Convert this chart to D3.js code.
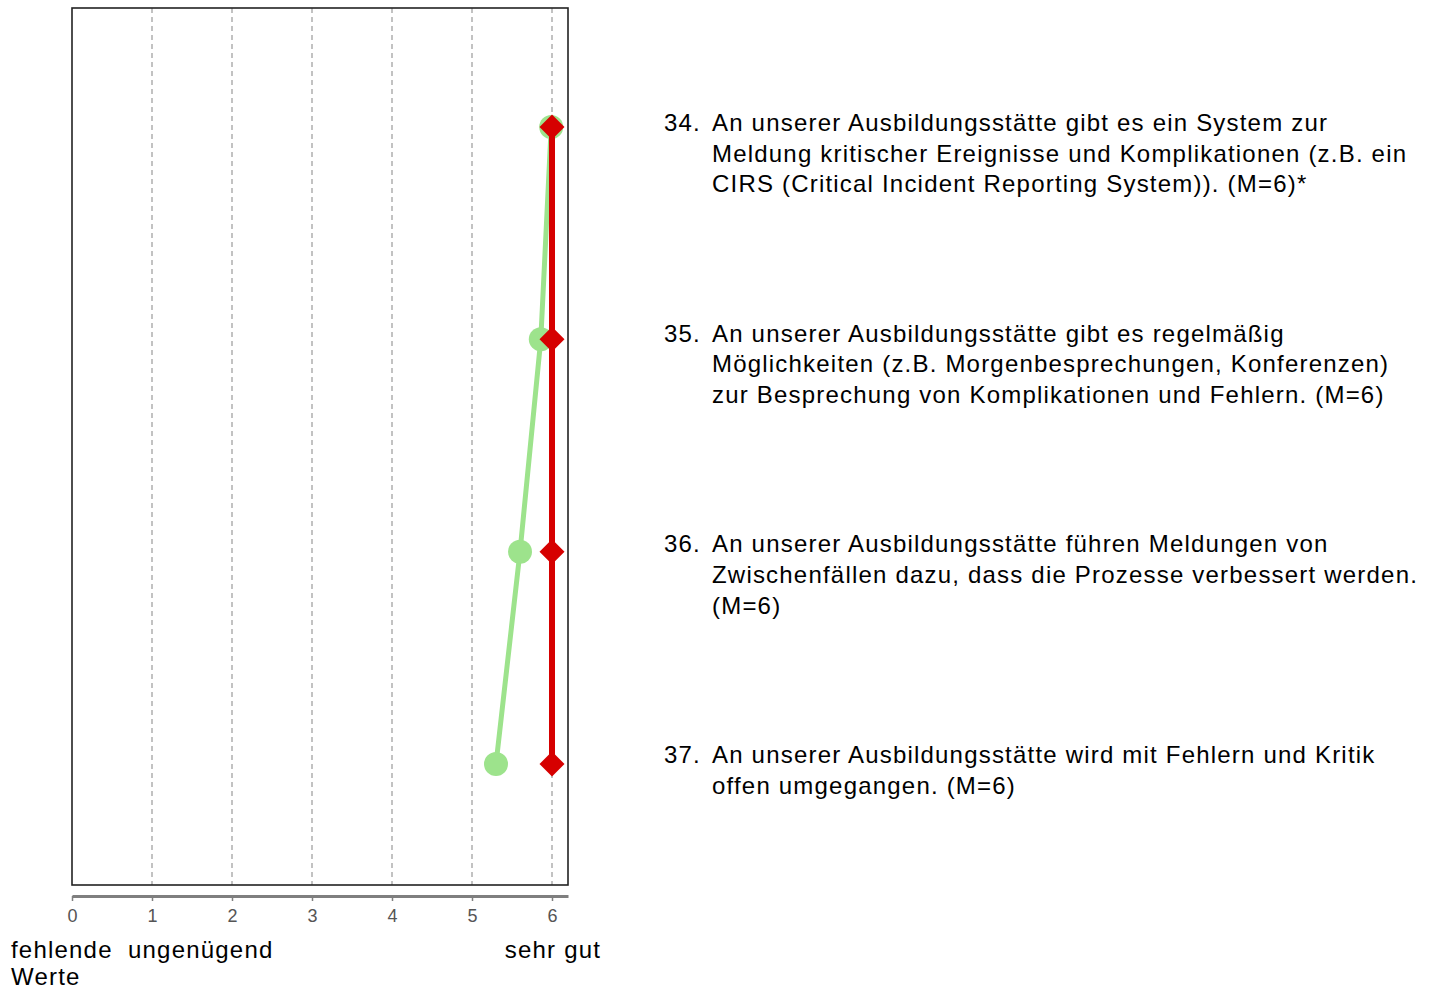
<!DOCTYPE html>
<html><head><meta charset="utf-8">
<script src="https://cdn.jsdelivr.net/npm/d3@7"></script>
<style>body{margin:0;background:#fff}svg{display:block}</style>
</head><body>
<script>
const items = ["34.","35.","36.","37."];
const itemTexts = [
 ["An unserer Ausbildungsstätte gibt es ein System zur","Meldung kritischer Ereignisse und Komplikationen (z.B. ein","CIRS (Critical Incident Reporting System)). (M=6)*"],
 ["An unserer Ausbildungsstätte gibt es regelmäßig","Möglichkeiten (z.B. Morgenbesprechungen, Konferenzen)","zur Besprechung von Komplikationen und Fehlern. (M=6)"],
 ["An unserer Ausbildungsstätte führen Meldungen von","Zwischenfällen dazu, dass die Prozesse verbessert werden.","(M=6)"],
 ["An unserer Ausbildungsstätte wird mit Fehlern und Kritik","offen umgegangen. (M=6)"]
];
const greenValues = [5.99, 5.86, 5.6, 5.3];
const redValues = [6, 6, 6, 6];
const tickValues = [0,1,2,3,4,5,6];

const W=1437,H=989;
const svg=d3.select("body").append("svg").attr("width",W).attr("height",H)
  .style("font-family","'Liberation Sans', Arial, Helvetica, sans-serif");

const x=d3.scaleLinear().domain([0,6.2]).range([72,568]);
const y=d3.scalePoint().domain(items).range([127,764]);
const yText=d3.scalePoint().domain(items).range([131,763]);
const plotTop=8,plotBottom=885;

// grid
svg.append("g").selectAll("line").data(tickValues.slice(1)).join("line")
  .attr("x1",d=>x(d)).attr("x2",d=>x(d)).attr("y1",plotTop).attr("y2",plotBottom)
  .attr("stroke","#9a9a9a").attr("stroke-width",1.2).attr("stroke-dasharray","5,4");

// box
svg.append("rect").attr("x",x(0)).attr("y",plotTop).attr("width",x(6.2)-x(0)).attr("height",plotBottom-plotTop)
  .attr("fill","none").attr("stroke","#222").attr("stroke-width",1.6);

// axis
const ax=svg.append("g").attr("transform",`translate(0,896)`)
  .call(d3.axisBottom(x).tickValues(tickValues).tickFormat(d3.format("d")).tickSize(5).tickSizeOuter(0).tickPadding(8));
ax.select(".domain").attr("stroke","#7f7f7f").attr("stroke-width",3);
ax.selectAll(".tick line").attr("stroke","#7f7f7f").attr("stroke-width",1.5);
ax.selectAll(".tick text").attr("fill","#555").attr("font-size",18).attr("font-family","'Liberation Sans', Arial, sans-serif");

// lines and markers
const line=d3.line().x(d=>x(d.v)).y(d=>y(d.k));
const gData=items.map((k,i)=>({k,v:greenValues[i]}));
const rData=items.map((k,i)=>({k,v:redValues[i]}));
svg.append("path").datum(gData).attr("d",line).attr("fill","none").attr("stroke","#9de38c").attr("stroke-width",5);
svg.append("g").selectAll("circle").data(gData).join("circle")
  .attr("cx",d=>x(d.v)).attr("cy",d=>y(d.k)).attr("r",12).attr("fill","#9de38c");
svg.append("path").datum(rData).attr("d",line).attr("fill","none").attr("stroke","#d60000").attr("stroke-width",6);
svg.append("g").selectAll("path").data(rData).join("path")
  .attr("d",d=>{const cx=x(d.v),cy=y(d.k),s=12.5;return `M${cx},${cy-s}L${cx+s},${cy}L${cx},${cy+s}L${cx-s},${cy}Z`;})
  .attr("fill","#d60000");

// bottom labels
const lab=svg.append("g").attr("font-size",24).attr("letter-spacing","1.2px").attr("fill","#000");
lab.append("text").attr("x",x(0)-61).attr("y",958).text("fehlende");
lab.append("text").attr("x",x(0)-61).attr("y",985).text("Werte");
lab.append("text").attr("x",x(1)-24).attr("y",958).text("ungenügend");
lab.append("text").attr("x",x(6)+1).attr("y",958).attr("text-anchor","middle").text("sehr gut");

// item texts
const tg=svg.append("g").attr("font-size",24).attr("letter-spacing","1.2px").attr("fill","#000");
items.forEach((k,i)=>{
  const base=yText(k);
  tg.append("text").attr("x",664).attr("y",base).text(k);
  itemTexts[i].forEach((t,j)=>{
    tg.append("text").attr("x",712).attr("y",base+j*30.7).text(t);
  });
});
</script>
</body></html>
